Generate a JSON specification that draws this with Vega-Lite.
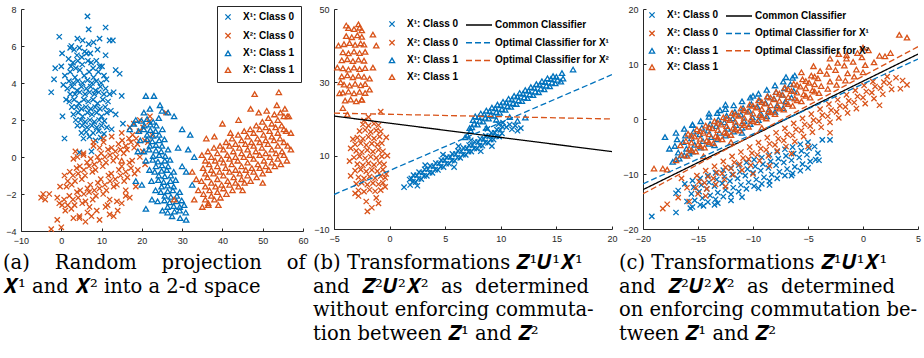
{
"$schema": "https://vega.github.io/schema/vega-lite/v6.json",
"padding": {"left": 3, "top": 5, "right": 2, "bottom": 0},
"background": "white",
"bounds": "flush",
"spacing": 31,
"resolve": {"scale": {"color": "independent", "shape": "independent", "size": "independent", "stroke": "independent", "strokeDash": "independent"}, "legend": {"color": "independent", "shape": "independent", "size": "independent", "stroke": "independent", "strokeDash": "independent"}},
"config": {
 "view": {"stroke": null},
 "font": "Liberation Sans",
 "axis": {"grid": false, "domainColor": "#262626", "tickColor": "#262626", "labelColor": "#262626", "labelFontSize": 9, "labelFont": "Liberation Sans", "tickSize": -3, "labelPadding": 8, "labelFlush": false, "title": null, "domainWidth": 1},
 "legend": {"labelFont": "Liberation Sans", "labelFontWeight": "bold", "labelFontSize": 10, "labelColor": "black", "title": null, "symbolStrokeWidth": 1},
 "title": {"orient": "bottom", "anchor": "start", "frame": "group", "font": "DejaVu Serif", "fontSize": 19.5, "fontWeight": "normal", "lineHeight": 23.5, "color": "black", "baseline": "top", "offset": 7},
 "point": {"opacity": 1, "filled": false, "strokeWidth": 1.3}
},
"datasets": {
"a": [
{"x":3.2,"y":5.8,"s":0},{"x":4.5,"y":5.9,"s":0},{"x":5.8,"y":5.7,"s":0},{"x":6.8,"y":6.1,"s":0},{"x":3.9,"y":5.5,"s":0},{"x":5.1,"y":5.4,"s":0},{"x":6.3,"y":5.6,"s":0},
{"x":1.8,"y":5.3,"s":0},{"x":2.9,"y":5.1,"s":0},{"x":4.1,"y":5.2,"s":0},{"x":5.2,"y":5.0,"s":0},{"x":6.6,"y":5.2,"s":0},{"x":7.4,"y":5.1,"s":0},{"x":8.7,"y":5.2,"s":0},{"x":10.1,"y":4.9,"s":0},
{"x":2.4,"y":4.9,"s":0},{"x":3.6,"y":4.8,"s":0},{"x":7.9,"y":4.8,"s":0},{"x":9.5,"y":4.9,"s":0},
{"x":0.9,"y":4.4,"s":0},{"x":2.2,"y":4.6,"s":0},{"x":3.4,"y":4.3,"s":0},{"x":4.6,"y":4.7,"s":0},{"x":5.7,"y":4.4,"s":0},{"x":6.9,"y":4.6,"s":0},{"x":8.0,"y":4.3,"s":0},{"x":9.2,"y":4.6,"s":0},{"x":10.6,"y":4.4,"s":0},
{"x":1.9,"y":4.1,"s":0},{"x":3.0,"y":4.0,"s":0},{"x":4.1,"y":4.1,"s":0},{"x":5.3,"y":4.0,"s":0},{"x":6.5,"y":4.15,"s":0},{"x":7.6,"y":4.0,"s":0},{"x":8.7,"y":4.1,"s":0},{"x":9.9,"y":4.0,"s":0},{"x":11.2,"y":4.2,"s":0},
{"x":1.5,"y":3.7,"s":0},{"x":2.7,"y":3.8,"s":0},{"x":3.9,"y":3.6,"s":0},{"x":5.0,"y":3.8,"s":0},{"x":6.2,"y":3.7,"s":0},{"x":7.3,"y":3.8,"s":0},{"x":8.5,"y":3.6,"s":0},{"x":9.7,"y":3.8,"s":0},{"x":11.0,"y":3.7,"s":0},
{"x":2.2,"y":3.4,"s":0},{"x":3.4,"y":3.4,"s":0},{"x":4.6,"y":3.5,"s":0},{"x":5.9,"y":3.4,"s":0},{"x":7.0,"y":3.5,"s":0},{"x":8.2,"y":3.4,"s":0},{"x":9.3,"y":3.5,"s":0},{"x":10.6,"y":3.4,"s":0},{"x":12.0,"y":3.4,"s":0},
{"x":2.0,"y":3.0,"s":0},{"x":3.2,"y":3.1,"s":0},{"x":4.4,"y":2.9,"s":0},{"x":5.6,"y":3.1,"s":0},{"x":6.7,"y":3.0,"s":0},{"x":7.9,"y":3.1,"s":0},{"x":9.0,"y":2.9,"s":0},{"x":10.3,"y":3.1,"s":0},{"x":11.6,"y":3.0,"s":0},
{"x":2.6,"y":2.7,"s":0},{"x":3.8,"y":2.7,"s":0},{"x":5.0,"y":2.6,"s":0},{"x":6.1,"y":2.7,"s":0},{"x":7.3,"y":2.6,"s":0},{"x":8.4,"y":2.7,"s":0},{"x":9.6,"y":2.6,"s":0},{"x":10.9,"y":2.7,"s":0},
{"x":3.0,"y":2.3,"s":0},{"x":4.2,"y":2.4,"s":0},{"x":5.3,"y":2.2,"s":0},{"x":6.5,"y":2.4,"s":0},{"x":7.6,"y":2.3,"s":0},{"x":8.8,"y":2.4,"s":0},{"x":10.0,"y":2.2,"s":0},{"x":11.3,"y":2.4,"s":0},{"x":12.3,"y":2.5,"s":0},
{"x":3.6,"y":2.0,"s":0},{"x":4.8,"y":2.0,"s":0},{"x":5.9,"y":1.9,"s":0},{"x":7.1,"y":2.0,"s":0},{"x":8.2,"y":1.9,"s":0},{"x":9.4,"y":2.0,"s":0},{"x":10.7,"y":1.95,"s":0},
{"x":4.0,"y":1.7,"s":0},{"x":5.2,"y":1.7,"s":0},{"x":6.4,"y":1.6,"s":0},{"x":7.6,"y":1.7,"s":0},{"x":8.8,"y":1.6,"s":0},{"x":10.0,"y":1.7,"s":0},{"x":11.3,"y":1.6,"s":0},
{"x":5.0,"y":1.3,"s":0},{"x":6.2,"y":1.35,"s":0},{"x":7.9,"y":1.3,"s":0},{"x":9.3,"y":1.4,"s":0},{"x":10.6,"y":1.25,"s":0},
{"x":5.5,"y":1.0,"s":0},{"x":7.0,"y":1.1,"s":0},{"x":8.5,"y":0.9,"s":0},{"x":9.8,"y":1.05,"s":0},
{"x":6.5,"y":7.6,"s":0},{"x":6.8,"y":6.9,"s":0},{"x":11,"y":7.0,"s":0},{"x":-0.5,"y":6.5,"s":0},{"x":-2.5,"y":3.5,"s":0},{"x":-1.8,"y":4.2,"s":0},{"x":-1.5,"y":4.8,"s":0},{"x":0.2,"y":5.6,"s":0},{"x":0.8,"y":1.0,"s":0},{"x":4.5,"y":0.25,"s":0},{"x":7.5,"y":0.3,"s":0},{"x":14.5,"y":4.5,"s":0},{"x":13.5,"y":4.7,"s":0},{"x":15,"y":3.3,"s":0},{"x":12,"y":6.3,"s":0},{"x":12.8,"y":6.3,"s":0},{"x":9.5,"y":6.4,"s":0},{"x":15.3,"y":1.8,"s":0},{"x":13,"y":3.5,"s":0},{"x":2.5,"y":6.0,"s":0},{"x":4,"y":6.4,"s":0},{"x":11,"y":5.5,"s":0},{"x":0.3,"y":2.2,"s":0},{"x":5.3,"y":6.3,"s":0},{"x":8,"y":6.2,"s":0},{"x":13.5,"y":2.3,"s":0},{"x":1.2,"y":3.1,"s":0},{"x":0.5,"y":3.9,"s":0},{"x":12.5,"y":1.5,"s":0},{"x":2.2,"y":5.9,"s":0},{"x":7.2,"y":5.6,"s":0},{"x":9,"y":5.8,"s":0},{"x":0,"y":4.9,"s":0},
{"x":1.0,"y":-2.9,"s":1},{"x":0.7,"y":-2.3,"s":1},{"x":1.3,"y":-1.6,"s":1},{"x":0.8,"y":-1.0,"s":1},
{"x":2.5,"y":-2.8,"s":1},{"x":2.0,"y":-2.1,"s":1},{"x":2.6,"y":-1.5,"s":1},{"x":2.1,"y":-0.8,"s":1},
{"x":3.3,"y":-2.6,"s":1},{"x":3.9,"y":-1.9,"s":1},{"x":3.4,"y":-1.3,"s":1},{"x":3.8,"y":-0.6,"s":1},
{"x":5.2,"y":-2.5,"s":1},{"x":4.7,"y":-1.8,"s":1},{"x":5.1,"y":-1.2,"s":1},{"x":4.6,"y":-0.5,"s":1},
{"x":6.0,"y":-2.4,"s":1},{"x":6.5,"y":-1.7,"s":1},{"x":5.9,"y":-1.0,"s":1},{"x":6.4,"y":-0.3,"s":1},
{"x":7.8,"y":-2.3,"s":1},{"x":7.2,"y":-1.5,"s":1},{"x":7.7,"y":-0.8,"s":1},{"x":7.3,"y":-0.1,"s":1},
{"x":8.6,"y":-2.1,"s":1},{"x":9.1,"y":-1.4,"s":1},{"x":8.5,"y":-0.7,"s":1},{"x":9.0,"y":0.0,"s":1},
{"x":10.4,"y":-2.0,"s":1},{"x":9.8,"y":-1.2,"s":1},{"x":10.3,"y":-0.5,"s":1},{"x":9.9,"y":0.2,"s":1},
{"x":11.2,"y":-1.8,"s":1},{"x":11.7,"y":-1.0,"s":1},{"x":11.1,"y":-0.3,"s":1},{"x":11.6,"y":0.4,"s":1},
{"x":13.0,"y":-1.6,"s":1},{"x":12.4,"y":-0.9,"s":1},{"x":12.9,"y":-0.2,"s":1},{"x":12.5,"y":0.5,"s":1},
{"x":13.8,"y":-1.5,"s":1},{"x":14.3,"y":-0.7,"s":1},{"x":13.7,"y":0.0,"s":1},{"x":14.2,"y":0.7,"s":1},
{"x":15.6,"y":-1.3,"s":1},{"x":15.0,"y":-0.5,"s":1},{"x":15.5,"y":0.2,"s":1},{"x":15.1,"y":0.9,"s":1},
{"x":16.4,"y":-1.1,"s":1},{"x":16.9,"y":-0.3,"s":1},{"x":16.3,"y":0.4,"s":1},{"x":16.8,"y":1.0,"s":1},
{"x":18.2,"y":-0.9,"s":1},{"x":17.6,"y":-0.2,"s":1},{"x":18.1,"y":0.5,"s":1},{"x":17.7,"y":1.2,"s":1},
{"x":19.0,"y":-0.7,"s":1},{"x":19.5,"y":0.0,"s":1},{"x":18.9,"y":0.7,"s":1},{"x":19.4,"y":1.4,"s":1},
{"x":20.8,"y":-0.4,"s":1},{"x":20.2,"y":0.3,"s":1},{"x":20.7,"y":0.9,"s":1},{"x":20.3,"y":1.6,"s":1},
{"x":1.6,"y":-2.6,"s":1},{"x":2.9,"y":-2.3,"s":1},{"x":4.2,"y":-2.2,"s":1},{"x":5.6,"y":-2.0,"s":1},{"x":6.9,"y":-1.9,"s":1},{"x":8.2,"y":-1.8,"s":1},{"x":9.5,"y":-1.7,"s":1},{"x":10.8,"y":-1.5,"s":1},{"x":12.1,"y":-1.3,"s":1},{"x":13.4,"y":-1.2,"s":1},{"x":14.7,"y":-1.0,"s":1},{"x":16.0,"y":-0.8,"s":1},{"x":17.3,"y":-0.6,"s":1},
{"x":1.6,"y":-1.3,"s":1},{"x":2.9,"y":-1.0,"s":1},{"x":4.2,"y":-0.9,"s":1},{"x":5.6,"y":-0.7,"s":1},{"x":6.9,"y":-0.5,"s":1},{"x":8.2,"y":-0.4,"s":1},{"x":9.5,"y":-0.2,"s":1},{"x":10.8,"y":0.0,"s":1},{"x":12.1,"y":0.1,"s":1},{"x":13.4,"y":0.3,"s":1},{"x":14.7,"y":0.4,"s":1},{"x":16.0,"y":0.6,"s":1},{"x":17.3,"y":0.8,"s":1},{"x":18.6,"y":1.0,"s":1},{"x":21.5,"y":0.8,"s":1},{"x":21.8,"y":1.9,"s":1},{"x":22.5,"y":1.2,"s":1},
{"x":3,"y":-0.1,"s":1},{"x":4.5,"y":-3.2,"s":1},{"x":5.5,"y":0.2,"s":1},{"x":6.5,"y":-3.0,"s":1},{"x":8,"y":0.6,"s":1},{"x":8.8,"y":-2.9,"s":1},{"x":10.5,"y":0.8,"s":1},{"x":11.5,"y":-2.6,"s":1},{"x":12.5,"y":1.1,"s":1},{"x":13.8,"y":-2.4,"s":1},{"x":15,"y":1.3,"s":1},{"x":16,"y":-2.1,"s":1},{"x":17,"y":1.6,"s":1},{"x":18.5,"y":-1.6,"s":1},{"x":19.5,"y":2.0,"s":1},{"x":7,"y":-2.7,"s":1},{"x":4,"y":0.0,"s":1},{"x":9.5,"y":0.5,"s":1},{"x":12,"y":-2.3,"s":1},
{"x":-5,"y":-2.2,"s":1},{"x":-4,"y":-2.3,"s":1},{"x":-3,"y":-2.0,"s":1},{"x":-4.5,"y":-2.0,"s":1},{"x":-1,"y":-2.2,"s":1},{"x":-0.5,"y":-2.5,"s":1},{"x":-2.5,"y":-3.9,"s":1},{"x":0,"y":-3.8,"s":1},{"x":-1,"y":-3.4,"s":1},{"x":4.5,"y":-3.3,"s":1},{"x":6,"y":-3.5,"s":1},{"x":7.5,"y":-3.2,"s":1},{"x":12,"y":-3.1,"s":1},{"x":13,"y":-3.2,"s":1},{"x":14,"y":-2.9,"s":1},{"x":16,"y":-1.8,"s":1},{"x":17,"y":-2.2,"s":1},{"x":9.5,"y":-3.4,"s":1},{"x":22,"y":2.2,"s":1},{"x":26,"y":2.4,"s":1},{"x":18,"y":1.8,"s":1},{"x":3,"y":-3.3,"s":1},{"x":0.2,"y":-2.6,"s":1},{"x":-0.3,"y":-1.6,"s":1},{"x":10.5,"y":1.0,"s":1},{"x":3.5,"y":0.3,"s":1},{"x":5.5,"y":0.1,"s":1},{"x":8,"y":0.8,"s":1},{"x":15,"y":-2.5,"s":1},{"x":11,"y":-2.7,"s":1},
{"x":18.5,"y":2.0,"s":2},{"x":19.9,"y":1.95,"s":2},{"x":21.3,"y":2.05,"s":2},{"x":22.8,"y":1.9,"s":2},{"x":24.2,"y":2.1,"s":2},
{"x":19.2,"y":1.4,"s":2},{"x":20.5,"y":1.5,"s":2},{"x":22.1,"y":1.45,"s":2},{"x":23.4,"y":1.4,"s":2},{"x":25.1,"y":1.5,"s":2},
{"x":19.6,"y":0.9,"s":2},{"x":21.3,"y":0.95,"s":2},{"x":22.6,"y":0.85,"s":2},{"x":24.3,"y":0.9,"s":2},{"x":25.6,"y":0.95,"s":2},
{"x":20.5,"y":0.3,"s":2},{"x":21.8,"y":0.4,"s":2},{"x":23.5,"y":0.35,"s":2},{"x":24.8,"y":0.3,"s":2},{"x":26.5,"y":0.4,"s":2},
{"x":21.0,"y":-0.2,"s":2},{"x":22.7,"y":-0.15,"s":2},{"x":24.0,"y":-0.25,"s":2},{"x":25.7,"y":-0.2,"s":2},{"x":27.0,"y":-0.15,"s":2},
{"x":21.9,"y":-0.7,"s":2},{"x":23.2,"y":-0.8,"s":2},{"x":24.9,"y":-0.75,"s":2},{"x":26.2,"y":-0.7,"s":2},{"x":27.9,"y":-0.8,"s":2},
{"x":22.4,"y":-1.3,"s":2},{"x":24.1,"y":-1.25,"s":2},{"x":25.4,"y":-1.35,"s":2},{"x":27.1,"y":-1.3,"s":2},{"x":28.4,"y":-1.25,"s":2},
{"x":23.4,"y":-1.8,"s":2},{"x":24.7,"y":-1.9,"s":2},{"x":26.4,"y":-1.85,"s":2},{"x":27.7,"y":-1.8,"s":2},{"x":29.4,"y":-1.9,"s":2},
{"x":23.9,"y":-2.4,"s":2},{"x":25.6,"y":-2.35,"s":2},{"x":26.9,"y":-2.45,"s":2},{"x":28.6,"y":-2.4,"s":2},{"x":29.9,"y":-2.35,"s":2},
{"x":25.1,"y":-2.9,"s":2},{"x":26.4,"y":-3.0,"s":2},{"x":28.1,"y":-2.95,"s":2},{"x":29.4,"y":-2.9,"s":2},{"x":30.9,"y":-3.0,"s":2},
{"x":20.6,"y":1.7,"s":2},{"x":22.1,"y":1.75,"s":2},{"x":23.6,"y":1.7,"s":2},{"x":21.3,"y":1.2,"s":2},{"x":22.8,"y":1.15,"s":2},{"x":24.3,"y":1.2,"s":2},{"x":22.0,"y":0.6,"s":2},{"x":23.5,"y":0.65,"s":2},{"x":25.0,"y":0.6,"s":2},{"x":22.8,"y":0.05,"s":2},{"x":24.3,"y":0.1,"s":2},{"x":25.8,"y":0.05,"s":2},{"x":23.5,"y":-0.5,"s":2},{"x":25.0,"y":-0.45,"s":2},{"x":26.5,"y":-0.5,"s":2},{"x":24.2,"y":-1.0,"s":2},{"x":25.7,"y":-1.05,"s":2},{"x":27.2,"y":-1.0,"s":2},{"x":24.9,"y":-1.6,"s":2},{"x":26.4,"y":-1.55,"s":2},{"x":27.9,"y":-1.6,"s":2},{"x":25.7,"y":-2.1,"s":2},{"x":27.2,"y":-2.15,"s":2},{"x":28.7,"y":-2.1,"s":2},{"x":26.4,"y":-2.7,"s":2},{"x":27.9,"y":-2.65,"s":2},{"x":29.4,"y":-2.7,"s":2},
{"x":21,"y":3.3,"s":2},{"x":23,"y":3.3,"s":2},{"x":24.5,"y":2.8,"s":2},{"x":22,"y":2.6,"s":2},{"x":26.5,"y":2.4,"s":2},{"x":28,"y":2.2,"s":2},{"x":30,"y":1.5,"s":2},{"x":32,"y":1.2,"s":2},{"x":31.5,"y":0.4,"s":2},{"x":33,"y":0,"s":2},{"x":31,"y":-0.8,"s":2},{"x":32.5,"y":-1.5,"s":2},{"x":31,"y":-3.4,"s":2},{"x":27.5,"y":-3.2,"s":2},{"x":22.5,"y":-2.3,"s":2},{"x":21,"y":-2.8,"s":2},{"x":20,"y":-1.5,"s":2},{"x":19,"y":0.3,"s":2},{"x":18,"y":1.8,"s":2},{"x":17,"y":1.5,"s":2},{"x":18.5,"y":-1.3,"s":2},{"x":30.5,"y":-2.6,"s":2},{"x":29.5,"y":-3.3,"s":2},{"x":25,"y":2.5,"s":2},{"x":20.5,"y":2.4,"s":2},{"x":29,"y":0.5,"s":2},{"x":30,"y":-0.5,"s":2},
{"x":35,"y":-2.7,"s":3},{"x":35.3,"y":-2.0,"s":3},{"x":34.8,"y":-1.3,"s":3},{"x":35.2,"y":-0.6,"s":3},{"x":34.9,"y":0.1,"s":3},
{"x":36.5,"y":-2.5,"s":3},{"x":36.8,"y":-1.8,"s":3},{"x":36.3,"y":-1.1,"s":3},{"x":36.7,"y":-0.4,"s":3},{"x":36.4,"y":0.3,"s":3},
{"x":38,"y":-2.3,"s":3},{"x":38.3,"y":-1.6,"s":3},{"x":37.8,"y":-0.9,"s":3},{"x":38.2,"y":-0.2,"s":3},{"x":37.9,"y":0.5,"s":3},
{"x":39.5,"y":-2.2,"s":3},{"x":39.8,"y":-1.5,"s":3},{"x":39.3,"y":-0.8,"s":3},{"x":39.7,"y":-0.1,"s":3},{"x":39.4,"y":0.6,"s":3},
{"x":41,"y":-2.0,"s":3},{"x":41.3,"y":-1.3,"s":3},{"x":40.8,"y":-0.6,"s":3},{"x":41.2,"y":0.1,"s":3},{"x":40.9,"y":0.8,"s":3},
{"x":42.5,"y":-1.8,"s":3},{"x":42.8,"y":-1.1,"s":3},{"x":42.3,"y":-0.4,"s":3},{"x":42.7,"y":0.3,"s":3},{"x":42.4,"y":1.0,"s":3},
{"x":44,"y":-1.6,"s":3},{"x":44.3,"y":-0.9,"s":3},{"x":43.8,"y":-0.2,"s":3},{"x":44.2,"y":0.5,"s":3},{"x":43.9,"y":1.2,"s":3},
{"x":45.5,"y":-1.4,"s":3},{"x":45.8,"y":-0.7,"s":3},{"x":45.3,"y":0.0,"s":3},{"x":45.7,"y":0.7,"s":3},{"x":45.4,"y":1.4,"s":3},
{"x":47,"y":-1.3,"s":3},{"x":47.3,"y":-0.6,"s":3},{"x":46.8,"y":0.1,"s":3},{"x":47.2,"y":0.8,"s":3},{"x":46.9,"y":1.5,"s":3},
{"x":48.5,"y":-1.1,"s":3},{"x":48.8,"y":-0.4,"s":3},{"x":48.3,"y":0.3,"s":3},{"x":48.7,"y":1.0,"s":3},{"x":48.4,"y":1.7,"s":3},
{"x":50,"y":-0.9,"s":3},{"x":50.3,"y":-0.2,"s":3},{"x":49.8,"y":0.5,"s":3},{"x":50.2,"y":1.2,"s":3},{"x":49.9,"y":1.9,"s":3},
{"x":51.5,"y":-0.7,"s":3},{"x":51.8,"y":0.0,"s":3},{"x":51.3,"y":0.7,"s":3},{"x":51.7,"y":1.4,"s":3},{"x":51.4,"y":2.1,"s":3},
{"x":53,"y":-0.5,"s":3},{"x":53.3,"y":0.2,"s":3},{"x":52.8,"y":0.9,"s":3},{"x":53.2,"y":1.6,"s":3},{"x":52.9,"y":2.3,"s":3},
{"x":54.5,"y":-0.4,"s":3},{"x":54.8,"y":0.3,"s":3},{"x":54.3,"y":1.0,"s":3},{"x":54.7,"y":1.7,"s":3},{"x":54.4,"y":2.4,"s":3},
{"x":56,"y":-0.2,"s":3},{"x":56.2,"y":0.6,"s":3},{"x":55.8,"y":1.4,"s":3},{"x":56.1,"y":2.2,"s":3},
{"x":35.75,"y":-2.3,"s":3},{"x":35.75,"y":-1.6,"s":3},{"x":35.75,"y":-0.9,"s":3},{"x":35.75,"y":-0.2,"s":3},
{"x":37.25,"y":-2.1,"s":3},{"x":37.25,"y":-1.4,"s":3},{"x":37.25,"y":-0.7,"s":3},{"x":37.25,"y":0.0,"s":3},
{"x":38.75,"y":-1.9,"s":3},{"x":38.75,"y":-1.2,"s":3},{"x":38.75,"y":-0.5,"s":3},{"x":38.75,"y":0.2,"s":3},
{"x":40.25,"y":-1.7,"s":3},{"x":40.25,"y":-1.0,"s":3},{"x":40.25,"y":-0.3,"s":3},{"x":40.25,"y":0.4,"s":3},
{"x":41.75,"y":-1.5,"s":3},{"x":41.75,"y":-0.8,"s":3},{"x":41.75,"y":-0.1,"s":3},{"x":41.75,"y":0.6,"s":3},
{"x":43.25,"y":-1.4,"s":3},{"x":43.25,"y":-0.7,"s":3},{"x":43.25,"y":0.0,"s":3},{"x":43.25,"y":0.7,"s":3},
{"x":44.75,"y":-1.2,"s":3},{"x":44.75,"y":-0.5,"s":3},{"x":44.75,"y":0.2,"s":3},{"x":44.75,"y":0.9,"s":3},
{"x":46.25,"y":-1.0,"s":3},{"x":46.25,"y":-0.3,"s":3},{"x":46.25,"y":0.4,"s":3},{"x":46.25,"y":1.1,"s":3},
{"x":47.75,"y":-0.8,"s":3},{"x":47.75,"y":-0.1,"s":3},{"x":47.75,"y":0.6,"s":3},{"x":47.75,"y":1.3,"s":3},
{"x":49.25,"y":-0.6,"s":3},{"x":49.25,"y":0.1,"s":3},{"x":49.25,"y":0.8,"s":3},{"x":49.25,"y":1.5,"s":3},
{"x":50.75,"y":-0.5,"s":3},{"x":50.75,"y":0.2,"s":3},{"x":50.75,"y":0.9,"s":3},{"x":50.75,"y":1.6,"s":3},
{"x":52.25,"y":-0.3,"s":3},{"x":52.25,"y":0.4,"s":3},{"x":52.25,"y":1.1,"s":3},{"x":52.25,"y":1.8,"s":3},
{"x":53.75,"y":-0.1,"s":3},{"x":53.75,"y":0.6,"s":3},{"x":53.75,"y":1.3,"s":3},{"x":53.75,"y":2.0,"s":3},
{"x":55.25,"y":0.1,"s":3},{"x":55.25,"y":0.8,"s":3},{"x":55.25,"y":1.5,"s":3},{"x":55.25,"y":2.2,"s":3},
{"x":48,"y":3.4,"s":3},{"x":54,"y":3.5,"s":3},{"x":53.5,"y":2.8,"s":3},{"x":47,"y":2.6,"s":3},{"x":51,"y":2.5,"s":3},{"x":40,"y":1.8,"s":3},{"x":42,"y":1.3,"s":3},{"x":44,"y":2.0,"s":3},{"x":36.5,"y":-2.6,"s":3},{"x":33,"y":-2.3,"s":3},{"x":34,"y":-1.8,"s":3},{"x":15,"y":-0.2,"s":3},{"x":28,"y":-2.3,"s":3},{"x":56.5,"y":2.2,"s":3},{"x":57,"y":1.3,"s":3},{"x":57,"y":0.4,"s":3},{"x":45,"y":-1.8,"s":3},{"x":50,"y":-1.4,"s":3},{"x":39,"y":-2.6,"s":3},{"x":32.5,"y":-0.8,"s":3},{"x":33.5,"y":-1.2,"s":3},{"x":55.5,"y":2.6,"s":3},{"x":49,"y":2.4,"s":3},{"x":38,"y":1.1,"s":3},{"x":36,"y":1.0,"s":3}
],
"b": [
{"x":1.85,"y":2.0,"s":0},{"x":2.1,"y":2.9,"s":0},{"x":1.95,"y":3.8,"s":0},{"x":2.15,"y":4.7,"s":0},
{"x":2.35,"y":2.8,"s":0},{"x":2.6,"y":3.7,"s":0},{"x":2.45,"y":4.6,"s":0},{"x":2.65,"y":5.5,"s":0},
{"x":2.85,"y":3.6,"s":0},{"x":3.1,"y":4.5,"s":0},{"x":2.95,"y":5.4,"s":0},{"x":3.15,"y":6.3,"s":0},
{"x":3.35,"y":4.5,"s":0},{"x":3.6,"y":5.4,"s":0},{"x":3.45,"y":6.3,"s":0},{"x":3.65,"y":7.2,"s":0},
{"x":3.85,"y":5.3,"s":0},{"x":4.1,"y":6.2,"s":0},{"x":3.95,"y":7.1,"s":0},{"x":4.15,"y":8.0,"s":0},
{"x":4.35,"y":6.1,"s":0},{"x":4.6,"y":7.0,"s":0},{"x":4.45,"y":7.9,"s":0},{"x":4.65,"y":8.8,"s":0},
{"x":4.85,"y":6.9,"s":0},{"x":5.1,"y":7.8,"s":0},{"x":4.95,"y":8.7,"s":0},{"x":5.15,"y":9.6,"s":0},
{"x":5.35,"y":7.8,"s":0},{"x":5.6,"y":8.7,"s":0},{"x":5.45,"y":9.6,"s":0},{"x":5.65,"y":10.5,"s":0},
{"x":5.85,"y":8.6,"s":0},{"x":6.1,"y":9.5,"s":0},{"x":5.95,"y":10.4,"s":0},{"x":6.15,"y":11.3,"s":0},
{"x":6.35,"y":9.4,"s":0},{"x":6.6,"y":10.3,"s":0},{"x":6.45,"y":11.2,"s":0},{"x":6.65,"y":12.1,"s":0},
{"x":6.85,"y":10.2,"s":0},{"x":7.1,"y":11.1,"s":0},{"x":6.95,"y":12.0,"s":0},{"x":7.15,"y":12.9,"s":0},
{"x":7.35,"y":11.1,"s":0},{"x":7.6,"y":12.0,"s":0},{"x":7.45,"y":12.9,"s":0},{"x":7.65,"y":13.8,"s":0},
{"x":7.85,"y":11.9,"s":0},{"x":8.1,"y":12.8,"s":0},{"x":7.95,"y":13.7,"s":0},{"x":8.15,"y":14.6,"s":0},
{"x":8.35,"y":12.7,"s":0},{"x":8.6,"y":13.6,"s":0},{"x":8.45,"y":14.5,"s":0},{"x":8.65,"y":15.4,"s":0},
{"x":8.85,"y":13.5,"s":0},{"x":9.1,"y":14.4,"s":0},{"x":8.95,"y":15.3,"s":0},{"x":9.15,"y":16.2,"s":0},
{"x":9.35,"y":14.4,"s":0},{"x":9.6,"y":15.3,"s":0},{"x":9.45,"y":16.2,"s":0},{"x":9.65,"y":17.1,"s":0},
{"x":9.85,"y":15.2,"s":0},{"x":10.1,"y":16.1,"s":0},{"x":9.95,"y":17.0,"s":0},{"x":10.15,"y":17.9,"s":0},
{"x":1.3,"y":1.4,"s":0},{"x":2.5,"y":1.8,"s":0},{"x":1.8,"y":3.5,"s":0},{"x":10.5,"y":17.8,"s":0},{"x":11,"y":17.2,"s":0},{"x":11.5,"y":16.8,"s":0},{"x":10.8,"y":18.5,"s":0},{"x":11.8,"y":17.5,"s":0},{"x":10.2,"y":19,"s":0},{"x":9.8,"y":18.6,"s":0},{"x":11.3,"y":18.2,"s":0},{"x":8.8,"y":17.3,"s":0},{"x":7.3,"y":14.2,"s":0},{"x":6.2,"y":12.6,"s":0},{"x":4.8,"y":10.3,"s":0},{"x":3.2,"y":7.4,"s":0},{"x":5.8,"y":6.9,"s":0},{"x":8.2,"y":11.2,"s":0},{"x":9.2,"y":12.6,"s":0},
{"x":-2.8,"y":0.5,"s":1},{"x":-2.3,"y":0.2,"s":1},{"x":-1.8,"y":0.7,"s":1},{"x":-1.3,"y":0.3,"s":1},{"x":-0.8,"y":0.6,"s":1},
{"x":-3.0,"y":2.3,"s":1},{"x":-2.5,"y":2.6,"s":1},{"x":-2.0,"y":2.1,"s":1},{"x":-1.5,"y":2.5,"s":1},{"x":-1.0,"y":2.2,"s":1},{"x":-0.6,"y":2.6,"s":1},
{"x":-2.8,"y":4.1,"s":1},{"x":-2.3,"y":3.8,"s":1},{"x":-1.8,"y":4.3,"s":1},{"x":-1.3,"y":3.9,"s":1},{"x":-0.8,"y":4.4,"s":1},{"x":-0.4,"y":4.0,"s":1},
{"x":-3.1,"y":5.9,"s":1},{"x":-2.6,"y":6.2,"s":1},{"x":-2.1,"y":5.7,"s":1},{"x":-1.6,"y":6.1,"s":1},{"x":-1.1,"y":5.8,"s":1},{"x":-0.6,"y":6.2,"s":1},
{"x":-2.9,"y":7.7,"s":1},{"x":-2.4,"y":7.4,"s":1},{"x":-1.9,"y":7.9,"s":1},{"x":-1.4,"y":7.5,"s":1},{"x":-0.9,"y":8.0,"s":1},{"x":-0.5,"y":7.6,"s":1},
{"x":-3.2,"y":9.5,"s":1},{"x":-2.7,"y":9.8,"s":1},{"x":-2.2,"y":9.3,"s":1},{"x":-1.7,"y":9.7,"s":1},{"x":-1.2,"y":9.4,"s":1},{"x":-0.7,"y":9.8,"s":1},
{"x":-3.0,"y":11.3,"s":1},{"x":-2.5,"y":11.0,"s":1},{"x":-2.0,"y":11.5,"s":1},{"x":-1.5,"y":11.1,"s":1},{"x":-1.0,"y":11.6,"s":1},{"x":-0.6,"y":11.2,"s":1},
{"x":-3.1,"y":13.1,"s":1},{"x":-2.6,"y":13.4,"s":1},{"x":-2.1,"y":12.9,"s":1},{"x":-1.6,"y":13.3,"s":1},{"x":-1.1,"y":13.0,"s":1},{"x":-0.7,"y":13.4,"s":1},
{"x":-2.9,"y":14.9,"s":1},{"x":-2.4,"y":14.6,"s":1},{"x":-1.9,"y":15.1,"s":1},{"x":-1.4,"y":14.7,"s":1},{"x":-0.9,"y":15.2,"s":1},
{"x":-2.7,"y":16.7,"s":1},{"x":-2.2,"y":17.0,"s":1},{"x":-1.7,"y":16.5,"s":1},{"x":-1.2,"y":16.9,"s":1},{"x":-0.8,"y":16.6,"s":1},
{"x":-2.4,"y":18.5,"s":1},{"x":-1.9,"y":18.2,"s":1},{"x":-1.4,"y":18.7,"s":1},{"x":-1.0,"y":18.3,"s":1},
{"x":-2,"y":-5.2,"s":1},{"x":-1.6,"y":-4.2,"s":1},{"x":-1,"y":-3,"s":1},{"x":-3.1,"y":-0.3,"s":1},{"x":-0.8,"y":22,"s":1},{"x":-1.9,"y":20.5,"s":1},{"x":-2.3,"y":19.6,"s":1},{"x":-3.5,"y":12,"s":1},{"x":-3.3,"y":14.5,"s":1},{"x":-3.6,"y":8.5,"s":1},{"x":-0.3,"y":5,"s":1},{"x":-0.4,"y":1.5,"s":1},{"x":-2.8,"y":-1,"s":1},{"x":-1.2,"y":-1.5,"s":1},{"x":-0.2,"y":10,"s":1},{"x":-0.3,"y":15,"s":1},{"x":-3.5,"y":4.5,"s":1},{"x":-2.1,"y":-2.5,"s":1},
{"x":7.4,"y":17.7,"s":2},{"x":7.6,"y":18.7,"s":2},{"x":7.5,"y":19.7,"s":2},{"x":7.7,"y":20.7,"s":2},
{"x":7.9,"y":18.5,"s":2},{"x":8.1,"y":19.5,"s":2},{"x":8.0,"y":20.5,"s":2},{"x":8.2,"y":21.5,"s":2},
{"x":8.4,"y":19.3,"s":2},{"x":8.6,"y":20.3,"s":2},{"x":8.5,"y":21.3,"s":2},{"x":8.7,"y":22.3,"s":2},
{"x":8.9,"y":20.1,"s":2},{"x":9.1,"y":21.1,"s":2},{"x":9.0,"y":22.1,"s":2},{"x":9.2,"y":23.1,"s":2},
{"x":9.4,"y":20.9,"s":2},{"x":9.6,"y":21.9,"s":2},{"x":9.5,"y":22.9,"s":2},{"x":9.7,"y":23.9,"s":2},
{"x":9.9,"y":21.7,"s":2},{"x":10.1,"y":22.7,"s":2},{"x":10.0,"y":23.7,"s":2},{"x":10.2,"y":24.7,"s":2},
{"x":10.4,"y":22.5,"s":2},{"x":10.6,"y":23.5,"s":2},{"x":10.5,"y":24.5,"s":2},{"x":10.7,"y":25.5,"s":2},
{"x":10.9,"y":23.3,"s":2},{"x":11.1,"y":24.3,"s":2},{"x":11.0,"y":25.3,"s":2},{"x":11.2,"y":26.3,"s":2},
{"x":11.4,"y":24.1,"s":2},{"x":11.6,"y":25.1,"s":2},{"x":11.5,"y":26.1,"s":2},{"x":11.7,"y":27.1,"s":2},
{"x":11.9,"y":24.9,"s":2},{"x":12.1,"y":25.9,"s":2},{"x":12.0,"y":26.9,"s":2},{"x":12.2,"y":27.9,"s":2},
{"x":12.4,"y":25.7,"s":2},{"x":12.6,"y":26.7,"s":2},{"x":12.5,"y":27.7,"s":2},{"x":12.7,"y":28.7,"s":2},
{"x":12.9,"y":26.5,"s":2},{"x":13.1,"y":27.5,"s":2},{"x":13.0,"y":28.5,"s":2},{"x":13.2,"y":29.5,"s":2},
{"x":13.4,"y":27.3,"s":2},{"x":13.6,"y":28.3,"s":2},{"x":13.5,"y":29.3,"s":2},{"x":13.7,"y":30.3,"s":2},
{"x":13.9,"y":28.1,"s":2},{"x":14.1,"y":29.1,"s":2},{"x":14.0,"y":30.1,"s":2},{"x":14.2,"y":31.1,"s":2},
{"x":14.4,"y":28.9,"s":2},{"x":14.6,"y":29.9,"s":2},{"x":14.5,"y":30.9,"s":2},{"x":14.7,"y":31.7,"s":2},
{"x":14.9,"y":29.7,"s":2},{"x":15.1,"y":30.7,"s":2},{"x":15.0,"y":31.5,"s":2},
{"x":15.4,"y":30.2,"s":2},{"x":15.6,"y":31.0,"s":2},
{"x":7,"y":15.5,"s":2},{"x":7.3,"y":16.8,"s":2},{"x":6.8,"y":15,"s":2},{"x":7.2,"y":17.5,"s":2},{"x":15.5,"y":32.5,"s":2},{"x":16.5,"y":33.5,"s":2},{"x":11.5,"y":19.5,"s":2},{"x":10.8,"y":20.5,"s":2},{"x":9.6,"y":19.8,"s":2},{"x":12.2,"y":20.4,"s":2},{"x":8.7,"y":17.6,"s":2},
{"x":-4.0,"y":25.0,"s":3},{"x":-3.5,"y":25.3,"s":3},{"x":-3.0,"y":24.8,"s":3},{"x":-2.5,"y":25.2,"s":3},
{"x":-4.2,"y":27.2,"s":3},{"x":-3.7,"y":27.5,"s":3},{"x":-3.2,"y":27.0,"s":3},{"x":-2.7,"y":27.4,"s":3},{"x":-2.2,"y":27.1,"s":3},
{"x":-4.1,"y":29.4,"s":3},{"x":-3.6,"y":29.1,"s":3},{"x":-3.1,"y":29.6,"s":3},{"x":-2.6,"y":29.2,"s":3},{"x":-2.2,"y":29.5,"s":3},
{"x":-4.3,"y":31.6,"s":3},{"x":-3.8,"y":31.9,"s":3},{"x":-3.3,"y":31.4,"s":3},{"x":-2.8,"y":31.8,"s":3},{"x":-2.3,"y":31.5,"s":3},
{"x":-4.2,"y":33.8,"s":3},{"x":-3.7,"y":33.5,"s":3},{"x":-3.2,"y":34.0,"s":3},{"x":-2.7,"y":33.6,"s":3},{"x":-2.2,"y":33.9,"s":3},
{"x":-4.3,"y":36.0,"s":3},{"x":-3.8,"y":36.3,"s":3},{"x":-3.3,"y":35.8,"s":3},{"x":-2.8,"y":36.2,"s":3},{"x":-2.3,"y":35.9,"s":3},
{"x":-4.2,"y":38.2,"s":3},{"x":-3.7,"y":37.9,"s":3},{"x":-3.2,"y":38.4,"s":3},{"x":-2.7,"y":38.0,"s":3},{"x":-2.2,"y":38.3,"s":3},
{"x":-4.1,"y":40.4,"s":3},{"x":-3.6,"y":40.7,"s":3},{"x":-3.1,"y":40.2,"s":3},{"x":-2.6,"y":40.6,"s":3},{"x":-2.3,"y":40.3,"s":3},
{"x":-3.9,"y":42.6,"s":3},{"x":-3.4,"y":42.3,"s":3},{"x":-2.9,"y":42.8,"s":3},{"x":-2.5,"y":42.4,"s":3},
{"x":-3.7,"y":44.8,"s":3},{"x":-3.2,"y":44.5,"s":3},{"x":-2.7,"y":44.9,"s":3},
{"x":-4.5,"y":27,"s":3},{"x":-2.5,"y":44.2,"s":3},{"x":-1.5,"y":43,"s":3},{"x":-1.2,"y":40,"s":3},{"x":-1.5,"y":34,"s":3},{"x":-1.8,"y":31,"s":3},{"x":-4.2,"y":23,"s":3},{"x":-3.8,"y":21.2,"s":3},{"x":-2.5,"y":25.3,"s":3},{"x":-1.8,"y":28,"s":3},{"x":-4.6,"y":40,"s":3},{"x":-4.7,"y":34,"s":3},{"x":-4.4,"y":30,"s":3},{"x":-3.9,"y":45.5,"s":3},{"x":-2.8,"y":45.8,"s":3}
],
"c": [
{"x":-15.5,"y":-16.0,"s":0},{"x":-15.3,"y":-14.8,"s":0},{"x":-15.6,"y":-13.6,"s":0},{"x":-15.4,"y":-12.4,"s":0},{"x":-15.5,"y":-11.2,"s":0},
{"x":-14.8,"y":-15.6,"s":0},{"x":-14.6,"y":-14.4,"s":0},{"x":-14.9,"y":-13.2,"s":0},{"x":-14.7,"y":-12.0,"s":0},{"x":-14.8,"y":-10.8,"s":0},
{"x":-14.1,"y":-15.1,"s":0},{"x":-13.9,"y":-13.9,"s":0},{"x":-14.2,"y":-12.7,"s":0},{"x":-14.0,"y":-11.5,"s":0},{"x":-14.1,"y":-10.3,"s":0},
{"x":-13.4,"y":-14.6,"s":0},{"x":-13.2,"y":-13.4,"s":0},{"x":-13.5,"y":-12.2,"s":0},{"x":-13.3,"y":-11.0,"s":0},{"x":-13.4,"y":-9.8,"s":0},
{"x":-12.7,"y":-14.1,"s":0},{"x":-12.5,"y":-12.9,"s":0},{"x":-12.8,"y":-11.7,"s":0},{"x":-12.6,"y":-10.5,"s":0},{"x":-12.7,"y":-9.3,"s":0},
{"x":-12.0,"y":-13.7,"s":0},{"x":-11.8,"y":-12.5,"s":0},{"x":-12.1,"y":-11.3,"s":0},{"x":-11.9,"y":-10.1,"s":0},{"x":-12.0,"y":-8.9,"s":0},
{"x":-11.3,"y":-13.2,"s":0},{"x":-11.1,"y":-12.0,"s":0},{"x":-11.4,"y":-10.8,"s":0},{"x":-11.2,"y":-9.6,"s":0},{"x":-11.3,"y":-8.4,"s":0},
{"x":-10.6,"y":-12.7,"s":0},{"x":-10.4,"y":-11.5,"s":0},{"x":-10.7,"y":-10.3,"s":0},{"x":-10.5,"y":-9.1,"s":0},{"x":-10.6,"y":-7.9,"s":0},
{"x":-9.9,"y":-12.2,"s":0},{"x":-9.7,"y":-11.0,"s":0},{"x":-10.0,"y":-9.8,"s":0},{"x":-9.8,"y":-8.6,"s":0},{"x":-9.9,"y":-7.4,"s":0},
{"x":-9.2,"y":-11.8,"s":0},{"x":-9.0,"y":-10.6,"s":0},{"x":-9.3,"y":-9.4,"s":0},{"x":-9.1,"y":-8.2,"s":0},{"x":-9.2,"y":-7.0,"s":0},
{"x":-8.5,"y":-11.3,"s":0},{"x":-8.3,"y":-10.1,"s":0},{"x":-8.6,"y":-8.9,"s":0},{"x":-8.4,"y":-7.7,"s":0},{"x":-8.5,"y":-6.5,"s":0},
{"x":-7.8,"y":-10.8,"s":0},{"x":-7.6,"y":-9.6,"s":0},{"x":-7.9,"y":-8.4,"s":0},{"x":-7.7,"y":-7.2,"s":0},{"x":-7.8,"y":-6.0,"s":0},
{"x":-7.1,"y":-10.3,"s":0},{"x":-6.9,"y":-9.1,"s":0},{"x":-7.2,"y":-7.9,"s":0},{"x":-7.0,"y":-6.7,"s":0},{"x":-7.1,"y":-5.5,"s":0},
{"x":-6.4,"y":-9.9,"s":0},{"x":-6.2,"y":-8.7,"s":0},{"x":-6.5,"y":-7.5,"s":0},{"x":-6.3,"y":-6.3,"s":0},{"x":-6.4,"y":-5.1,"s":0},
{"x":-5.7,"y":-9.4,"s":0},{"x":-5.5,"y":-8.2,"s":0},{"x":-5.8,"y":-7.0,"s":0},{"x":-5.6,"y":-5.8,"s":0},{"x":-5.7,"y":-4.6,"s":0},
{"x":-5.0,"y":-8.9,"s":0},{"x":-4.8,"y":-7.7,"s":0},{"x":-5.1,"y":-6.5,"s":0},{"x":-4.9,"y":-5.3,"s":0},
{"x":-4.3,"y":-7.4,"s":0},{"x":-4.1,"y":-6.2,"s":0},{"x":-4.4,"y":-5.0,"s":0},
{"x":-19.2,"y":-17.7,"s":0},{"x":-17,"y":-17,"s":0},{"x":-17,"y":-13.5,"s":0},{"x":-16,"y":-15,"s":0},{"x":-15.7,"y":-16.2,"s":0},{"x":-16.8,"y":-13,"s":0},{"x":-16.2,"y":-11.8,"s":0},{"x":-3.7,"y":-3.8,"s":0},{"x":-3,"y":-3.8,"s":0},{"x":-5,"y":-4.2,"s":0},{"x":-12,"y":-14.8,"s":0},{"x":-11,"y":-14.2,"s":0},{"x":-14.5,"y":-15.8,"s":0},{"x":-13.2,"y":-15.3,"s":0},{"x":-8.5,"y":-12,"s":0},{"x":-9.5,"y":-12.6,"s":0},{"x":-6.5,"y":-10.3,"s":0},{"x":-4,"y":-7.5,"s":0},{"x":-13.5,"y":-15.6,"s":0},
{"x":-15.0,"y":-13.6,"s":1},{"x":-15.2,"y":-12.5,"s":1},{"x":-14.9,"y":-11.4,"s":1},{"x":-15.1,"y":-10.3,"s":1},
{"x":-14.2,"y":-12.7,"s":1},{"x":-14.4,"y":-11.6,"s":1},{"x":-14.1,"y":-10.5,"s":1},{"x":-14.3,"y":-9.4,"s":1},
{"x":-13.4,"y":-11.9,"s":1},{"x":-13.6,"y":-10.8,"s":1},{"x":-13.3,"y":-9.7,"s":1},{"x":-13.5,"y":-8.6,"s":1},
{"x":-12.6,"y":-11.0,"s":1},{"x":-12.8,"y":-9.9,"s":1},{"x":-12.5,"y":-8.8,"s":1},{"x":-12.7,"y":-7.7,"s":1},
{"x":-11.8,"y":-10.1,"s":1},{"x":-12.0,"y":-9.0,"s":1},{"x":-11.7,"y":-7.9,"s":1},{"x":-11.9,"y":-6.8,"s":1},
{"x":-11.0,"y":-9.3,"s":1},{"x":-11.2,"y":-8.2,"s":1},{"x":-10.9,"y":-7.1,"s":1},{"x":-11.1,"y":-6.0,"s":1},
{"x":-10.2,"y":-8.4,"s":1},{"x":-10.4,"y":-7.3,"s":1},{"x":-10.1,"y":-6.2,"s":1},{"x":-10.3,"y":-5.1,"s":1},
{"x":-9.4,"y":-7.6,"s":1},{"x":-9.6,"y":-6.5,"s":1},{"x":-9.3,"y":-5.4,"s":1},{"x":-9.5,"y":-4.3,"s":1},
{"x":-8.6,"y":-6.7,"s":1},{"x":-8.8,"y":-5.6,"s":1},{"x":-8.5,"y":-4.5,"s":1},{"x":-8.7,"y":-3.4,"s":1},
{"x":-7.8,"y":-5.8,"s":1},{"x":-8.0,"y":-4.7,"s":1},{"x":-7.7,"y":-3.6,"s":1},{"x":-7.9,"y":-2.5,"s":1},
{"x":-7.0,"y":-5.0,"s":1},{"x":-7.2,"y":-3.9,"s":1},{"x":-6.9,"y":-2.8,"s":1},{"x":-7.1,"y":-1.7,"s":1},
{"x":-6.2,"y":-4.1,"s":1},{"x":-6.4,"y":-3.0,"s":1},{"x":-6.1,"y":-1.9,"s":1},{"x":-6.3,"y":-0.8,"s":1},
{"x":-5.4,"y":-3.2,"s":1},{"x":-5.6,"y":-2.1,"s":1},{"x":-5.3,"y":-1.0,"s":1},{"x":-5.5,"y":0.1,"s":1},
{"x":-4.6,"y":-2.4,"s":1},{"x":-4.8,"y":-1.3,"s":1},{"x":-4.5,"y":-0.2,"s":1},{"x":-4.7,"y":0.9,"s":1},
{"x":-3.8,"y":-1.5,"s":1},{"x":-4.0,"y":-0.4,"s":1},{"x":-3.7,"y":0.7,"s":1},{"x":-3.9,"y":1.8,"s":1},
{"x":-3.0,"y":-0.6,"s":1},{"x":-3.2,"y":0.5,"s":1},{"x":-2.9,"y":1.6,"s":1},{"x":-3.1,"y":2.7,"s":1},
{"x":-2.2,"y":0.2,"s":1},{"x":-2.4,"y":1.3,"s":1},{"x":-2.1,"y":2.4,"s":1},{"x":-2.3,"y":3.5,"s":1},
{"x":-1.4,"y":1.1,"s":1},{"x":-1.6,"y":2.2,"s":1},{"x":-1.3,"y":3.3,"s":1},{"x":-1.5,"y":4.4,"s":1},
{"x":-0.6,"y":1.9,"s":1},{"x":-0.8,"y":3.0,"s":1},{"x":-0.5,"y":4.1,"s":1},{"x":-0.7,"y":5.2,"s":1},
{"x":0.2,"y":2.8,"s":1},{"x":0.0,"y":3.9,"s":1},{"x":0.3,"y":5.0,"s":1},{"x":0.1,"y":6.1,"s":1},
{"x":1.0,"y":3.7,"s":1},{"x":0.8,"y":4.8,"s":1},{"x":1.1,"y":5.9,"s":1},{"x":0.9,"y":6.8,"s":1},
{"x":1.8,"y":4.5,"s":1},{"x":1.6,"y":5.6,"s":1},{"x":1.9,"y":6.7,"s":1},
{"x":2.6,"y":5.4,"s":1},{"x":2.4,"y":6.5,"s":1},
{"x":-18.2,"y":-16.3,"s":1},{"x":-17.8,"y":-15.5,"s":1},{"x":-16.8,"y":-14.3,"s":1},{"x":-15.8,"y":-15,"s":1},{"x":-16,"y":-12.5,"s":1},{"x":-14.3,"y":-14,"s":1},{"x":3,"y":7.5,"s":1},{"x":3.6,"y":7,"s":1},{"x":2.2,"y":7.7,"s":1},{"x":3.4,"y":5.5,"s":1},{"x":4,"y":6.2,"s":1},{"x":-12.5,"y":-12.3,"s":1},{"x":-10,"y":-10,"s":1},{"x":-8.5,"y":-8.5,"s":1},{"x":-5,"y":-5,"s":1},{"x":1.5,"y":2.5,"s":1},{"x":-3,"y":-2.5,"s":1},{"x":-6.5,"y":-6.3,"s":1},{"x":-16.5,"y":-10.8,"s":1},
{"x":-17,"y":-7.3,"s":2},{"x":-16.8,"y":-6.1,"s":2},{"x":-17.1,"y":-4.9,"s":2},{"x":-16.9,"y":-3.7,"s":2},{"x":-17,"y":-2.5,"s":2},
{"x":-16.25,"y":-6.6,"s":2},{"x":-16.05,"y":-5.4,"s":2},{"x":-16.35,"y":-4.2,"s":2},{"x":-16.15,"y":-3.0,"s":2},{"x":-16.25,"y":-1.8,"s":2},
{"x":-15.5,"y":-5.9,"s":2},{"x":-15.3,"y":-4.7,"s":2},{"x":-15.6,"y":-3.5,"s":2},{"x":-15.4,"y":-2.3,"s":2},{"x":-15.5,"y":-1.1,"s":2},
{"x":-14.75,"y":-5.2,"s":2},{"x":-14.55,"y":-4.0,"s":2},{"x":-14.85,"y":-2.8,"s":2},{"x":-14.65,"y":-1.6,"s":2},{"x":-14.75,"y":-0.4,"s":2},
{"x":-14,"y":-4.5,"s":2},{"x":-13.8,"y":-3.3,"s":2},{"x":-14.1,"y":-2.1,"s":2},{"x":-13.9,"y":-0.9,"s":2},{"x":-14,"y":0.4,"s":2},
{"x":-13.25,"y":-3.7,"s":2},{"x":-13.05,"y":-2.5,"s":2},{"x":-13.35,"y":-1.3,"s":2},{"x":-13.15,"y":-0.1,"s":2},{"x":-13.25,"y":1.1,"s":2},
{"x":-12.5,"y":-3.0,"s":2},{"x":-12.3,"y":-1.8,"s":2},{"x":-12.6,"y":-0.6,"s":2},{"x":-12.4,"y":0.6,"s":2},{"x":-12.5,"y":1.8,"s":2},
{"x":-11.75,"y":-2.3,"s":2},{"x":-11.55,"y":-1.1,"s":2},{"x":-11.85,"y":0.1,"s":2},{"x":-11.65,"y":1.3,"s":2},{"x":-11.75,"y":2.5,"s":2},
{"x":-11,"y":-1.6,"s":2},{"x":-10.8,"y":-0.4,"s":2},{"x":-11.1,"y":0.8,"s":2},{"x":-10.9,"y":2.0,"s":2},{"x":-11,"y":3.2,"s":2},
{"x":-10.25,"y":-0.9,"s":2},{"x":-10.05,"y":0.3,"s":2},{"x":-10.35,"y":1.5,"s":2},{"x":-10.15,"y":2.7,"s":2},{"x":-10.25,"y":3.9,"s":2},
{"x":-9.5,"y":-0.2,"s":2},{"x":-9.3,"y":1.0,"s":2},{"x":-9.6,"y":2.2,"s":2},{"x":-9.4,"y":3.4,"s":2},{"x":-9.5,"y":4.6,"s":2},
{"x":-8.75,"y":0.5,"s":2},{"x":-8.55,"y":1.7,"s":2},{"x":-8.85,"y":2.9,"s":2},{"x":-8.65,"y":4.1,"s":2},{"x":-8.75,"y":5.3,"s":2},
{"x":-8,"y":1.3,"s":2},{"x":-7.8,"y":2.5,"s":2},{"x":-8.1,"y":3.7,"s":2},{"x":-7.9,"y":4.9,"s":2},{"x":-8,"y":6.1,"s":2},
{"x":-7.25,"y":2.0,"s":2},{"x":-7.05,"y":3.2,"s":2},{"x":-7.35,"y":4.4,"s":2},{"x":-7.15,"y":5.6,"s":2},{"x":-7.25,"y":6.8,"s":2},
{"x":-6.5,"y":3.9,"s":2},{"x":-6.3,"y":5.1,"s":2},{"x":-6.6,"y":6.3,"s":2},{"x":-6.4,"y":7.5,"s":2},
{"x":-18,"y":-3.3,"s":2},{"x":-17.3,"y":-7.8,"s":2},{"x":-16.7,"y":-7.2,"s":2},{"x":-15.5,"y":-1.0,"s":2},{"x":-14,"y":1.0,"s":2},{"x":-13,"y":1.6,"s":2},{"x":-12.5,"y":2.6,"s":2},{"x":-10,"y":4.2,"s":2},{"x":-7,"y":7.6,"s":2},{"x":-6.2,"y":7.9,"s":2},{"x":-11,"y":-2.5,"s":2},{"x":-13.5,"y":-4.8,"s":2},{"x":-15.8,"y":-6.3,"s":2},{"x":-17.6,"y":-5.4,"s":2},
{"x":-16,"y":-6.7,"s":3},{"x":-15.8,"y":-5.4,"s":3},{"x":-16.1,"y":-4.0,"s":3},{"x":-15.9,"y":-2.7,"s":3},
{"x":-15.2,"y":-5.9,"s":3},{"x":-15.0,"y":-4.6,"s":3},{"x":-15.3,"y":-3.2,"s":3},{"x":-15.1,"y":-1.9,"s":3},
{"x":-14.4,"y":-5.2,"s":3},{"x":-14.2,"y":-3.9,"s":3},{"x":-14.5,"y":-2.5,"s":3},{"x":-14.3,"y":-1.2,"s":3},
{"x":-13.6,"y":-4.4,"s":3},{"x":-13.4,"y":-3.1,"s":3},{"x":-13.7,"y":-1.7,"s":3},{"x":-13.5,"y":-0.4,"s":3},
{"x":-12.8,"y":-3.7,"s":3},{"x":-12.6,"y":-2.4,"s":3},{"x":-12.9,"y":-1.0,"s":3},{"x":-12.7,"y":0.3,"s":3},
{"x":-12.0,"y":-2.9,"s":3},{"x":-11.8,"y":-1.6,"s":3},{"x":-12.1,"y":-0.2,"s":3},{"x":-11.9,"y":1.1,"s":3},
{"x":-11.2,"y":-2.1,"s":3},{"x":-11.0,"y":-0.8,"s":3},{"x":-11.3,"y":0.6,"s":3},{"x":-11.1,"y":1.9,"s":3},
{"x":-10.4,"y":-1.4,"s":3},{"x":-10.2,"y":-0.1,"s":3},{"x":-10.5,"y":1.3,"s":3},{"x":-10.3,"y":2.6,"s":3},
{"x":-9.6,"y":-0.6,"s":3},{"x":-9.4,"y":0.7,"s":3},{"x":-9.7,"y":2.1,"s":3},{"x":-9.5,"y":3.4,"s":3},
{"x":-8.8,"y":0.1,"s":3},{"x":-8.6,"y":1.4,"s":3},{"x":-8.9,"y":2.8,"s":3},{"x":-8.7,"y":4.1,"s":3},
{"x":-8.0,"y":0.9,"s":3},{"x":-7.8,"y":2.2,"s":3},{"x":-8.1,"y":3.6,"s":3},{"x":-7.9,"y":4.9,"s":3},
{"x":-7.2,"y":1.7,"s":3},{"x":-7.0,"y":3.0,"s":3},{"x":-7.3,"y":4.4,"s":3},{"x":-7.1,"y":5.7,"s":3},
{"x":-6.4,"y":2.4,"s":3},{"x":-6.2,"y":3.7,"s":3},{"x":-6.5,"y":5.1,"s":3},{"x":-6.3,"y":6.4,"s":3},
{"x":-5.6,"y":3.2,"s":3},{"x":-5.4,"y":4.5,"s":3},{"x":-5.7,"y":5.9,"s":3},{"x":-5.5,"y":7.2,"s":3},
{"x":-4.8,"y":3.9,"s":3},{"x":-4.6,"y":5.2,"s":3},{"x":-4.9,"y":6.6,"s":3},{"x":-4.7,"y":7.9,"s":3},
{"x":-4.0,"y":4.7,"s":3},{"x":-3.8,"y":6.0,"s":3},{"x":-4.1,"y":7.4,"s":3},{"x":-3.9,"y":8.7,"s":3},
{"x":-3.2,"y":5.5,"s":3},{"x":-3.0,"y":6.8,"s":3},{"x":-3.3,"y":8.2,"s":3},{"x":-3.1,"y":9.5,"s":3},
{"x":-2.4,"y":6.2,"s":3},{"x":-2.2,"y":7.5,"s":3},{"x":-2.5,"y":8.9,"s":3},{"x":-2.3,"y":10.2,"s":3},
{"x":-1.6,"y":7.0,"s":3},{"x":-1.4,"y":8.3,"s":3},{"x":-1.7,"y":9.7,"s":3},{"x":-1.5,"y":11.0,"s":3},
{"x":-0.8,"y":7.7,"s":3},{"x":-0.6,"y":9.0,"s":3},{"x":-0.9,"y":10.4,"s":3},
{"x":0.0,"y":8.5,"s":3},{"x":0.2,"y":9.8,"s":3},{"x":-0.1,"y":11.2,"s":3},
{"x":-15.6,"y":-5.7,"s":3},{"x":-15.6,"y":-4.3,"s":3},{"x":-15.6,"y":-3.0,"s":3},
{"x":-14.8,"y":-4.9,"s":3},{"x":-14.8,"y":-3.6,"s":3},{"x":-14.8,"y":-2.2,"s":3},
{"x":-14.0,"y":-4.2,"s":3},{"x":-14.0,"y":-2.8,"s":3},{"x":-14.0,"y":-1.5,"s":3},
{"x":-13.2,"y":-3.4,"s":3},{"x":-13.2,"y":-2.0,"s":3},{"x":-13.2,"y":-0.7,"s":3},
{"x":-12.4,"y":-2.6,"s":3},{"x":-12.4,"y":-1.3,"s":3},{"x":-12.4,"y":0.1,"s":3},
{"x":-11.6,"y":-1.9,"s":3},{"x":-11.6,"y":-0.5,"s":3},{"x":-11.6,"y":0.8,"s":3},
{"x":-10.8,"y":-1.1,"s":3},{"x":-10.8,"y":0.2,"s":3},{"x":-10.8,"y":1.6,"s":3},
{"x":-10.0,"y":-0.4,"s":3},{"x":-10.0,"y":1.0,"s":3},{"x":-10.0,"y":2.4,"s":3},
{"x":-9.2,"y":0.4,"s":3},{"x":-9.2,"y":1.8,"s":3},{"x":-9.2,"y":3.1,"s":3},
{"x":-8.4,"y":1.2,"s":3},{"x":-8.4,"y":2.5,"s":3},{"x":-8.4,"y":3.9,"s":3},
{"x":-7.6,"y":1.9,"s":3},{"x":-7.6,"y":3.3,"s":3},{"x":-7.6,"y":4.6,"s":3},
{"x":-6.8,"y":2.7,"s":3},{"x":-6.8,"y":4.0,"s":3},{"x":-6.8,"y":5.4,"s":3},
{"x":-6.0,"y":3.4,"s":3},{"x":-6.0,"y":4.8,"s":3},{"x":-6.0,"y":6.2,"s":3},
{"x":-5.2,"y":4.2,"s":3},{"x":-5.2,"y":5.6,"s":3},{"x":-5.2,"y":6.9,"s":3},
{"x":-4.4,"y":5.0,"s":3},{"x":-4.4,"y":6.3,"s":3},{"x":-4.4,"y":7.7,"s":3},
{"x":-19,"y":-9,"s":3},{"x":-18.2,"y":-9,"s":3},{"x":-17.8,"y":-9.2,"s":3},{"x":3.3,"y":15.3,"s":3},{"x":4,"y":14.8,"s":3},{"x":2.5,"y":12,"s":3},{"x":1.5,"y":11.5,"s":3},{"x":0.5,"y":12.5,"s":3},{"x":0,"y":13,"s":3},{"x":-0.5,"y":12,"s":3},{"x":-1.5,"y":11.6,"s":3},{"x":-3,"y":11,"s":3},{"x":-16.5,"y":-6.5,"s":3},{"x":-17,"y":-7.5,"s":3},{"x":-16.6,"y":-4.8,"s":3},{"x":-14.5,"y":-6.8,"s":3},{"x":-12,"y":-4.2,"s":3},{"x":-9.2,"y":-1.6,"s":3},{"x":1,"y":10.3,"s":3},{"x":2,"y":11.4,"s":3},{"x":-2.2,"y":11.8,"s":3},{"x":-5.6,"y":8.5,"s":3},{"x":-4.5,"y":9.6,"s":3}
],
"lb": [{"x":-5,"y":20.8,"l":0},{"x":20,"y":11.1,"l":0},{"x":-5,"y":-0.6,"l":1},{"x":20,"y":32.1,"l":1},{"x":-5,"y":21.6,"l":2},{"x":20,"y":20.0,"l":2}],
"lc": [{"x":-20,"y":-12.85,"l":0},{"x":5,"y":11.8,"l":0},{"x":-20,"y":-11.8,"l":1},{"x":5,"y":10.9,"l":1},{"x":-20,"y":-13.6,"l":2},{"x":5,"y":13.15,"l":2}]
},
"hconcat": [
{
 "width": 282, "height": 222,
 "title": {"text": ["(a)\u00a0\u00a0\u00a0 Random\u00a0\u00a0\u00a0 projection\u00a0\u00a0\u00a0 of", "𝑿¹ and 𝑿² into a 2-d space"], "dx": -18, "offset": 9},
 "data": {"name": "a"},
 "mark": {"type": "point", "filled": false, "opacity": 1},
 "encoding": {
  "x": {"field": "x", "type": "quantitative", "scale": {"domain": [-10, 60], "nice": false, "zero": false}, "axis": {"values": [-10,0,10,20,30,40,50,60]}},
  "y": {"field": "y", "type": "quantitative", "scale": {"domain": [-4, 8], "nice": false, "zero": false}, "axis": {"values": [-4,-2,0,2,4,6,8]}},
  "color": {"field": "s", "type": "ordinal", "scale": {"domain": [0,1,2,3], "range": ["#0072BD","#D95319","#0072BD","#D95319"]},
   "legend": {"orient": "none", "legendX": 196, "legendY": -3, "padding": 6, "strokeColor": "#262626", "fillColor": "white", "rowPadding": 6.7, "labelOffset": 10, "labelExpr": "['X¹: Class 0','X²: Class 0','X¹: Class 1','X²: Class 1'][datum.value]"}},
  "shape": {"field": "s", "type": "ordinal", "scale": {"domain": [0,1,2,3], "range": ["M-1,-1L1,1M-1,1L1,-1","M-1,-1L1,1M-1,1L1,-1","triangle-up","triangle-up"]}},
  "size": {"field": "s", "type": "ordinal", "scale": {"domain": [0,1,2,3], "range": [28,28,60,60]}}
 }
},
{
 "width": 278, "height": 220,
 "title": {"text": ["(b) Transformations 𝒁¹𝑼¹𝑿¹", "\u00a0and\u00a0 𝒁²𝑼²𝑿²\u00a0 as\u00a0 determined", "\u00a0without enforcing commuta-", "\u00a0tion between 𝒁¹ and 𝒁²"], "dx": -21, "offset": 11},
 "layer": [
  {
   "data": {"name": "b"},
   "mark": {"type": "point", "filled": false, "opacity": 1},
   "encoding": {
    "x": {"field": "x", "type": "quantitative", "scale": {"domain": [-5, 20], "nice": false, "zero": false}, "axis": {"values": [-5,0,5,10,15,20]}},
    "y": {"field": "y", "type": "quantitative", "scale": {"domain": [-10, 50], "nice": false, "zero": false}, "axis": {"values": [-10,0,10,20,30,40,50]}},
    "color": {"field": "s", "type": "ordinal", "scale": {"domain": [0,1,2,3], "range": ["#0072BD","#D95319","#0072BD","#D95319"]},
     "legend": {"orient": "none", "legendX": 53, "legendY": 10, "padding": 0, "rowPadding": 6.7, "labelOffset": 10, "labelExpr": "['X¹: Class 0','X²: Class 0','X¹: Class 1','X²: Class 1'][datum.value]"}},
    "shape": {"field": "s", "type": "ordinal", "scale": {"domain": [0,1,2,3], "range": ["M-1,-1L1,1M-1,1L1,-1","M-1,-1L1,1M-1,1L1,-1","triangle-up","triangle-up"]}},
    "size": {"field": "s", "type": "ordinal", "scale": {"domain": [0,1,2,3], "range": [28,28,60,60]}}
   }
  },
  {
   "data": {"name": "lb"},
   "mark": {"type": "line", "strokeWidth": 1.3, "clip": true},
   "encoding": {
    "x": {"field": "x", "type": "quantitative"},
    "y": {"field": "y", "type": "quantitative"},
    "stroke": {"field": "l", "type": "ordinal", "scale": {"domain": [0,1,2], "range": ["#000000","#0072BD","#D95319"]},
     "legend": {"orient": "none", "legendX": 139, "legendY": 10, "padding": 0, "rowPadding": 6.7, "labelOffset": 10, "symbolType": "M-2.6,0H2.6", "symbolSize": 100, "symbolStrokeWidth": 1.5, "labelExpr": "['Common Classifier','Optimal Classifier for X¹','Optimal Classifier for X²'][datum.value]"}},
    "strokeDash": {"field": "l", "type": "ordinal", "scale": {"domain": [0,1,2], "range": [[1,0],[6,3],[6,3]]}}
   }
  }
 ]
},
{
 "width": 275, "height": 220,
 "title": {"text": ["\u00a0(c) Transformations 𝒁¹𝑼¹𝑿¹", "and\u00a0 𝒁²𝑼²𝑿²\u00a0 as\u00a0 determined", "\u00a0on enforcing commutation be-", "\u00a0\u00a0tween 𝒁¹ and 𝒁²"], "dx": -24, "offset": 11},
 "layer": [
  {
   "data": {"name": "c"},
   "mark": {"type": "point", "filled": false, "opacity": 1},
   "encoding": {
    "x": {"field": "x", "type": "quantitative", "scale": {"domain": [-20, 5], "nice": false, "zero": false}, "axis": {"values": [-20,-15,-10,-5,0,5]}},
    "y": {"field": "y", "type": "quantitative", "scale": {"domain": [-20, 20], "nice": false, "zero": false}, "axis": {"values": [-20,-15,-10,-5,0,5,10,15,20]}},
    "color": {"field": "s", "type": "ordinal", "scale": {"domain": [0,1,2,3], "range": ["#0072BD","#D95319","#0072BD","#D95319"]},
     "legend": {"orient": "none", "legendX": 4, "legendY": 1, "padding": 0, "rowPadding": 6.4, "labelOffset": 10, "labelExpr": "['X¹: Class 0','X²: Class 0','X¹: Class 1','X²: Class 1'][datum.value]"}},
    "shape": {"field": "s", "type": "ordinal", "scale": {"domain": [0,1,2,3], "range": ["M-1,-1L1,1M-1,1L1,-1","M-1,-1L1,1M-1,1L1,-1","triangle-up","triangle-up"]}},
    "size": {"field": "s", "type": "ordinal", "scale": {"domain": [0,1,2,3], "range": [28,28,60,60]}}
   }
  },
  {
   "data": {"name": "lc"},
   "mark": {"type": "line", "strokeWidth": 1.3, "clip": true},
   "encoding": {
    "x": {"field": "x", "type": "quantitative"},
    "y": {"field": "y", "type": "quantitative"},
    "stroke": {"field": "l", "type": "ordinal", "scale": {"domain": [0,1,2], "range": ["#000000","#0072BD","#D95319"]},
     "legend": {"orient": "none", "legendX": 90, "legendY": 1, "padding": 0, "rowPadding": 6.4, "labelOffset": 10, "symbolType": "M-2.6,0H2.6", "symbolSize": 100, "symbolStrokeWidth": 1.5, "labelExpr": "['Common Classifier','Optimal Classifier for X¹','Optimal Classifier for X²'][datum.value]"}},
    "strokeDash": {"field": "l", "type": "ordinal", "scale": {"domain": [0,1,2], "range": [[1,0],[6,3],[6,3]]}}
   }
  }
 ]
}
]
}
